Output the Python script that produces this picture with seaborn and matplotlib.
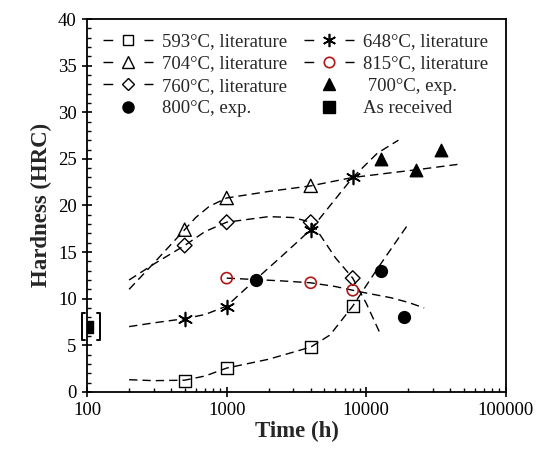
import numpy as np
import pandas as pd
import matplotlib
matplotlib.use("Agg")
import matplotlib.pyplot as plt
from matplotlib.lines import Line2D
from matplotlib.ticker import FixedLocator, LogLocator, NullFormatter, FuncFormatter
import seaborn as sns

# literature data points (time in h, hardness HRC)
t_593 = [500, 1000, 4000, 8000]
h_593 = [1.2, 2.6, 4.8, 9.2]
t_648 = [500, 1000, 4000, 8000]
h_648 = [7.8, 9.1, 17.4, 23.0]
t_704 = [500, 1000, 4000]
h_704 = [17.4, 20.8, 22.1]
t_760 = [500, 1000, 4000, 8000]
h_760 = [15.7, 18.2, 18.2, 12.2]
t_815 = [1000, 4000, 8000]
h_815 = [12.2, 11.7, 10.9]

# own experiments
t_700exp = [12800, 22800, 34300]
h_700exp = [25.0, 23.8, 25.9]
t_800exp = [1610, 12800, 18500]
h_800exp = [12.0, 13.0, 8.0]
t_recv = [100]
h_recv = [7.0]
recv_range = [5.6, 8.5]

# trend curves
ct_593 = [200, 300, 500, 700, 1000, 2000, 4000, 5500, 8000, 12000, 20000]
ch_593 = [1.3, 1.2, 1.25, 1.7, 2.55, 3.5, 4.8, 6.1, 9.2, 13.2, 18.0]
ct_648 = [200, 300, 500, 700, 1000, 1600, 2500, 4000, 8000, 12000, 17000]
ch_648 = [7.0, 7.4, 7.85, 8.3, 9.2, 12.0, 14.6, 17.4, 23.0, 25.6, 27.0]
ct_704 = [200, 300, 500, 600, 750, 1000, 2000, 4000, 8000, 15000, 25000, 45000]
ch_704 = [11.0, 13.8, 17.4, 18.7, 19.9, 20.8, 21.5, 22.1, 23.0, 23.5, 23.9, 24.4]
ct_760 = [200, 300, 500, 700, 1000, 2000, 3000, 4000, 4500, 6000, 8000, 10000, 12800]
ch_760 = [12.0, 13.7, 15.7, 17.2, 18.2, 18.8, 18.7, 18.2, 17.2, 14.4, 12.2, 9.5, 6.0]
ct_815 = [1000, 1600, 2500, 4000, 6000, 8000, 10000, 15000, 20000, 26000]
ch_815 = [12.2, 12.05, 11.9, 11.7, 11.3, 10.9, 10.6, 10.1, 9.6, 9.0]

sns.set_style("ticks")
plt.rcParams["font.family"] = ["Liberation Serif", "DejaVu Serif"]

red = "#b01818"
lw = 1.0
dash = (6, 3.6)

fig = plt.figure(figsize=(5.41, 4.53), dpi=100)
ax = fig.add_axes([0.161, 0.135, 0.774, 0.823])

curves = [(ct_593, ch_593), (ct_648, ch_648), (ct_704, ch_704),
          (ct_760, ch_760), (ct_815, ch_815)]
for ct, ch in curves:
    df = pd.DataFrame({"t": ct, "h": ch})
    sns.lineplot(data=df, x="t", y="h", ax=ax, color="black", lw=lw,
                 sort=False, estimator=None, legend=False, dashes=False)
for l in ax.get_lines():
    l.set_dashes(dash)

def pts(t, h, marker, size, face, edge, lwm=1.0):
    df = pd.DataFrame({"t": t, "h": h})
    sns.scatterplot(data=df, x="t", y="h", ax=ax, marker=marker, s=size**2,
                    facecolor=face, edgecolor=edge, linewidth=lwm, zorder=5,
                    legend=False)

pts(t_593, h_593, "s", 8.5, "none", "black")
pts(t_648, h_648, (6, 2, 0), 10, "black", "black", 1.2)
pts(t_704, h_704, "^", 9.5, "none", "black")
pts(t_760, h_760, "D", 7.5, "none", "black")
pts(t_815, h_815, "o", 8, "none", red, 1.2)
pts(t_700exp, h_700exp, "^", 9, "black", "black")
pts(t_800exp, h_800exp, "o", 8.5, "black", "black")
pts(t_recv, h_recv, "s", 8.5, "black", "black")

# bracket round the as-received value
xl, xr = t_recv[0] * 10 ** (-0.040), t_recv[0] * 10 ** (0.093)
hk = 10 ** 0.022
lo, hi = recv_range
ax.plot([xl * hk, xl, xl, xl * hk], [hi, hi, lo, lo], color="black", lw=1.4,
        clip_on=False, zorder=6, solid_joinstyle="round")
ax.plot([xr / hk, xr, xr, xr / hk], [hi, hi, lo, lo], color="black", lw=1.4,
        clip_on=False, zorder=6, solid_joinstyle="round")

ax.set_xscale("log")
ax.set_xlim(100, 100000)
ax.set_ylim(0, 40)
ax.xaxis.set_major_locator(FixedLocator([100, 1000, 10000, 100000]))
ax.xaxis.set_major_formatter(FuncFormatter(lambda v, p: "%d" % v))
ax.xaxis.set_minor_locator(LogLocator(base=10, subs=np.arange(2, 10)))
ax.xaxis.set_minor_formatter(NullFormatter())
ax.set_yticks(np.arange(0, 41, 5))
ax.set_yticks(np.arange(0, 41, 1), minor=True)

for s in ax.spines.values():
    s.set_linewidth(1.3)
    s.set_color("black")
ax.tick_params(which="major", direction="inout", length=7, width=1.2,
               labelsize=13.5, colors="black", pad=4)
ax.tick_params(which="minor", direction="in", length=3, width=1.0,
               colors="black")
ax.tick_params(top=False, right=False, which="both")

ax.set_xlabel("Time (h)", fontsize=16.5, fontweight="bold", labelpad=1)
ax.set_ylabel("Hardness (HRC)", fontsize=16.5, fontweight="bold", labelpad=4)

hdash = (7, 22.5)
def lit(marker, ms, mfc, mec, mew=1.0):
    return Line2D([], [], color="black", lw=lw, dashes=hdash, marker=marker,
                  markersize=ms, markerfacecolor=mfc, markeredgecolor=mec,
                  markeredgewidth=mew)

def exp(marker, ms):
    return Line2D([], [], ls="none", marker=marker, markersize=ms,
                  color="black")

handles = [lit("s", 7, "none", "black"), lit("^", 8, "none", "black"),
           lit("D", 6.5, "none", "black"), exp("o", 8),
           lit((6, 2, 0), 9.5, "black", "black", 1.2),
           lit("o", 7.5, "none", red, 1.2),
           exp("^", 8.5), exp("s", 8)]
labels = ["593\u00b0C, literature", "704\u00b0C, literature",
          "760\u00b0C, literature", "800\u00b0C, exp.",
          "648\u00b0C, literature", "815\u00b0C, literature",
          " 700\u00b0C, exp.", "As received"]
ax.legend(handles, labels, ncol=2, loc="upper left", frameon=False,
          fontsize=13.5, handlelength=2.67, handletextpad=0.48,
          labelspacing=0.28, columnspacing=0.9, borderaxespad=0,
          borderpad=0, bbox_to_anchor=(16 / 419, 1 - 14 / 373))

fig.savefig("out.png", dpi=100)
